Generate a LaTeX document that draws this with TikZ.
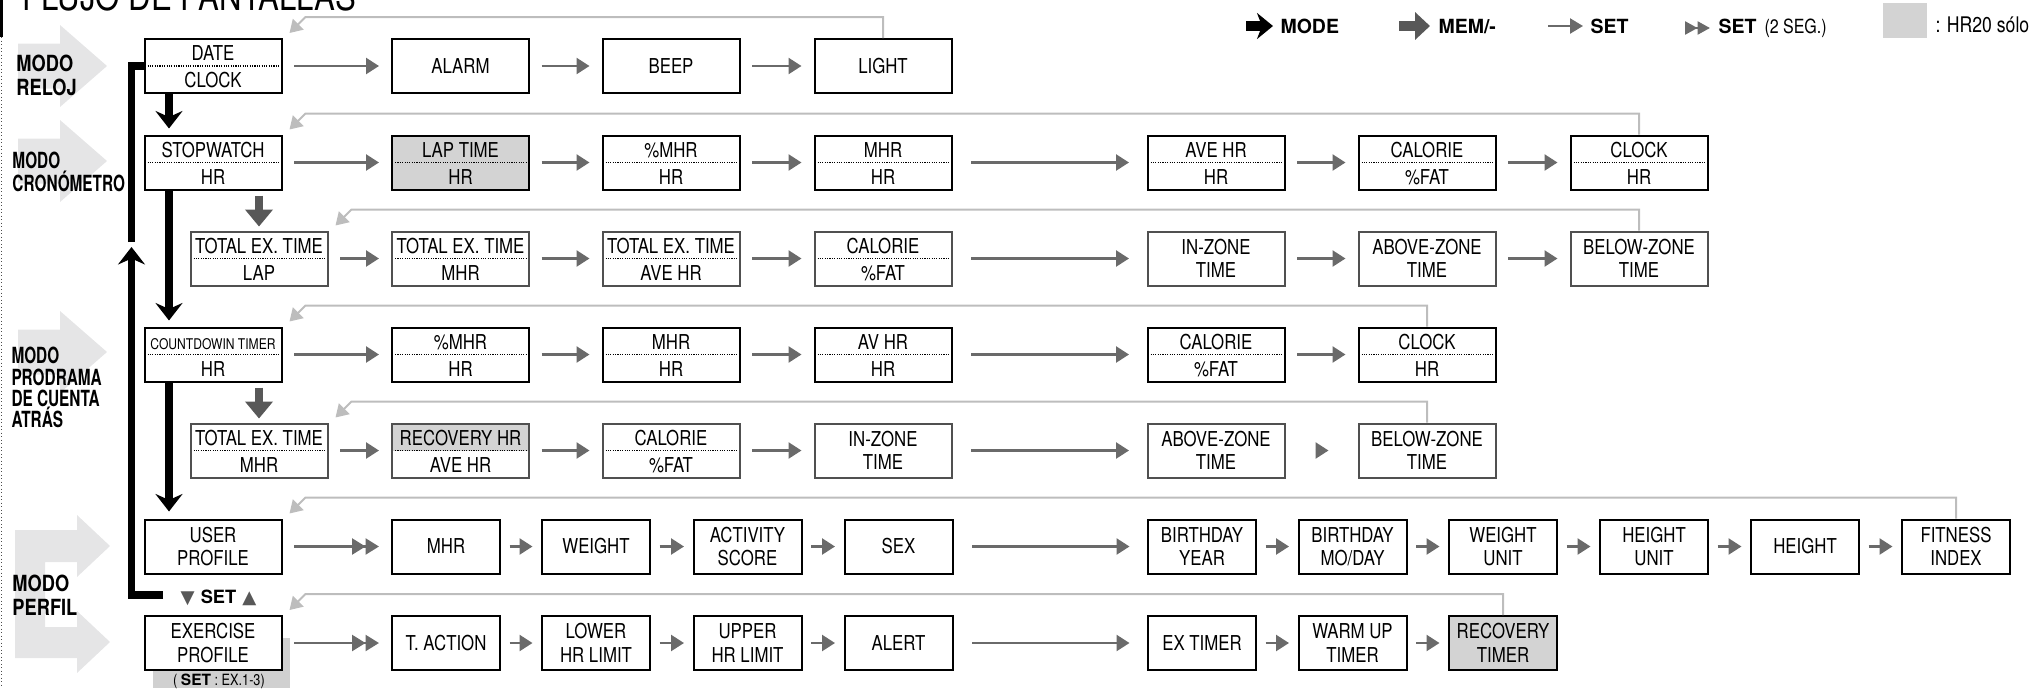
\documentclass[tikz,border=0pt]{standalone}
\usepackage{fontspec}
\setmainfont{TeX Gyre Heros}[FakeStretch=0.82]
\newfontfamily\cnwide{TeX Gyre Heros}[FakeStretch=0.82]
\newfontfamily\cnnarrow{TeX Gyre Heros}[FakeStretch=0.69]
\newfontfamily\plainhv{TeX Gyre Heros}
\newfontfamily\symfont{DejaVu Sans}
\usetikzlibrary{arrows.meta}

\definecolor{modegray}{HTML}{E5E5E6}
\definecolor{fbgray}{HTML}{BDBDBD}
\definecolor{setgray}{HTML}{6A6A6A}
\definecolor{memgray}{HTML}{585858}
\definecolor{hrgray}{HTML}{D3D3D3}
\definecolor{boxgray}{HTML}{505050}
\definecolor{patchgray}{HTML}{D0D0D0}

\newcommand{\boxfont}{\fontsize{8.2}{9.35}\selectfont}

\tikzset{
  box/.style={draw=black, line width=0.8pt, fill=white, minimum width=54.8pt, minimum height=21.6pt, inner sep=0pt, align=center, font=\boxfont},
  nbox/.style={box, minimum width=43.2pt},
  gbox/.style={draw=boxgray},
  hrbox/.style={fill=hrgray},
  tophalf/.style={path picture={\fill[hrgray] (path picture bounding box.north west) rectangle (path picture bounding box.east);}},
  txt/.style={inner sep=0pt, font=\boxfont},
  sepline/.style={line width=0.55pt, dash pattern=on 0.45pt off 0.5pt},
  setarrow/.style={draw=setgray, line width=1pt, -{Triangle[length=5.2pt,width=6.4pt]}, shorten <=4.6pt, shorten >=4.8pt},
  longarrow/.style={setarrow, shorten <=7.4pt, shorten >=7pt},
  shortarrow/.style={setarrow, shorten <=3.4pt, shorten >=3.4pt},
  dblarrow/.style={setarrow, -{Triangle[length=5.4pt,width=6.4pt]Triangle[length=5.4pt,width=6.4pt]}},
  fb/.style={draw=fbgray, line width=0.8pt, -{Triangle[length=5pt,width=6pt]}},
  modearrow/.style={draw=black, line width=3pt, -{Stealth[length=7pt,width=10.8pt,inset=2.4pt]}},
  modeline/.style={draw=black, line width=3pt},
  memarrow/.style={draw=memgray, line width=3.2pt, -{Triangle[length=6.8pt,width=10.8pt]}, shorten <=2pt, shorten >=1.6pt},
  modelabel/.style={anchor=north west, inner sep=0pt, align=left},
  legend/.style={anchor=base west, inner sep=0pt, font=\plainhv\bfseries\fontsize{7.8}{9}\selectfont},
}

\newcommand{\twopart}[5][]{%
  \node[box,#1] (#2) at (#3) {};
  \draw[sepline] ([xshift=1.6pt]#2.west) -- ([xshift=-1.6pt]#2.east);
  \node[txt, anchor=base] (#2t) at ([yshift=2.12pt]#2.center) {#4};
  \node[txt, anchor=base] (#2b) at ([yshift=-8.6pt]#2.center) {#5};
}

\begin{document}
\begin{tikzpicture}[x=0.4pt,y=-0.4pt]
\useasboundingbox (0,0) rectangle (2034,688);

% left border
\draw[line width=0.8pt] (1.5,0) -- (1.5,37);
\draw[line width=0.4pt, dash pattern=on 0.5pt off 0.9pt, draw=black!70] (1.5,37) -- (1.5,688);

% title
\node[anchor=base west, inner sep=0pt, font=\fontsize{15.2}{18}\selectfont] (title) at (22,10.7) {FLUJO DE PANTALLAS};

% legend
\coordinate (lmA) at (1246,26); \coordinate (lmB) at (1273,26);
\draw[draw=black, line width=4pt, -{Stealth[length=6.4pt,width=10.4pt,inset=2pt]}] (lmA) -- (lmB);
\node[legend] (lmode) at (1280,33) {MODE};
\coordinate (leA) at (1399,26); \coordinate (leB) at (1430,26);
\draw[draw=memgray, line width=4pt, -{Triangle[length=6pt,width=10.8pt]}] (leA) -- (leB);
\node[legend] (lmem) at (1438,33) {MEM/-};
\coordinate (lsA) at (1548,26); \coordinate (lsB) at (1583,26);
\draw[draw=setgray, line width=1pt, -{Triangle[length=5.2pt,width=6pt]}] (lsA) -- (lsB);
\node[legend] (lset) at (1590,33) {SET};
\coordinate (ldA) at (1685,28); \coordinate (ldB) at (1710,28);
\draw[draw=setgray, line width=1pt, -{Triangle[length=5pt,width=5.2pt]Triangle[length=5pt,width=5.2pt]}] (ldA) -- (ldB);
\node[legend] (lset2) at (1718,33) {SET};
\node[anchor=base west, inner sep=0pt, font=\fontsize{7.8}{9}\selectfont] (lseg) at (1764,33) {(2 SEG.)};
\node[fill=hrgray, minimum width=17.6pt, minimum height=14pt, inner sep=0pt] (lsq) at (1905,20.5) {};
\node[anchor=base west, inner sep=0pt, font=\fontsize{8.6}{10}\selectfont] (lhr) at (1935,32) {: HR20 sólo};

% big gray mode arrows
\fill[modegray] (18,43.5) -- (60,43.5) -- (60,25) -- (107,66) -- (60,107) -- (60,88.5) -- (18,88.5) -- cycle;
\fill[modegray] (18,138.5) -- (60,138.5) -- (60,120) -- (107,161) -- (60,202) -- (60,183.5) -- (18,183.5) -- cycle;
\fill[modegray] (18,329.5) -- (60,329.5) -- (60,311) -- (107,352) -- (60,393) -- (60,374.5) -- (18,374.5) -- cycle;
\fill[modegray] (15,530) -- (77,530) -- (77,515) -- (110,546) -- (77,577) -- (77,562) -- (45,562) -- (45,627) -- (77,627) -- (77,611) -- (110,642) -- (77,673) -- (77,658) -- (15,658) -- cycle;

% mode labels
\node[modelabel, font=\cnwide\bfseries\fontsize{8.9}{9.3}\selectfont] (lreloj) at (16,55) {MODO\\RELOJ};
\node[modelabel, font=\cnnarrow\bfseries\fontsize{8.9}{9.05}\selectfont] (lcrono) at (12,151.7) {MODO\\CRONÓMETRO};
\node[modelabel, font=\cnnarrow\bfseries\fontsize{8.9}{8.5}\selectfont] (lcuenta) at (11,347) {MODO\\PRODRAMA\\DE CUENTA\\ATRÁS};
\node[modelabel, font=\cnwide\bfseries\fontsize{8.9}{9.2}\selectfont] (lperfil) at (12,575) {MODO\\PERFIL};

% gray patch under exercise profile
\fill[patchgray] (153,638) rectangle (290,688);
\node[anchor=base, inner sep=0pt, font=\fontsize{6.2}{7}\selectfont] (exnote) at (219,685) {( {\plainhv\bfseries SET} : EX.1-3)};

% row 1
\twopart{date}{213,66}{DATE}{CLOCK}
\node[box] (alarm) at (460.5,66) {ALARM};
\node[box] (beep) at (671,66) {BEEP};
\node[box] (light) at (883,66) {LIGHT};

% row 2
\twopart{stop}{213,162.5}{STOPWATCH}{HR}
\twopart[hrbox]{lap}{460.5,162.5}{LAP TIME}{HR}
\twopart{pmhrA}{671,162.5}{\%MHR}{HR}
\twopart{mhrA}{883,162.5}{MHR}{HR}
\twopart{aveA}{1216,162.5}{AVE HR}{HR}
\twopart{calA}{1427,162.5}{CALORIE}{\%FAT}
\twopart{clkA}{1639,162.5}{CLOCK}{HR}

% row 3
\twopart[gbox]{tlB}{259,258.5}{TOTAL EX. TIME}{LAP}
\twopart[gbox]{tmB}{460.5,258.5}{TOTAL EX. TIME}{MHR}
\twopart[gbox]{taB}{671,258.5}{TOTAL EX. TIME}{AVE HR}
\twopart[gbox]{calB}{883,258.5}{CALORIE}{\%FAT}
\node[box,gbox] (inzB) at (1216,258.5) {IN-ZONE\\TIME};
\node[box,gbox] (abvB) at (1427,258.5) {ABOVE-ZONE\\TIME};
\node[box,gbox] (blwB) at (1639,258.5) {BELOW-ZONE\\TIME};

% row 4
\twopart{cd}{213,354.5}{{\fontsize{5.9}{7}\selectfont COUNTDOWIN TIMER}}{HR}
\twopart{pmhrC}{460.5,354.5}{\%MHR}{HR}
\twopart{mhrC}{671,354.5}{MHR}{HR}
\twopart{avC}{883,354.5}{AV HR}{HR}
\twopart{calC}{1216,354.5}{CALORIE}{\%FAT}
\twopart{clkC}{1427,354.5}{CLOCK}{HR}

% row 5
\twopart[gbox]{tmD}{259,450.5}{TOTAL EX. TIME}{MHR}
\twopart[gbox,tophalf]{rhr}{460.5,450.5}{RECOVERY HR}{AVE HR}
\twopart[gbox]{calD}{671,450.5}{CALORIE}{\%FAT}
\node[box,gbox] (inzD) at (883,450.5) {IN-ZONE\\TIME};
\node[box,gbox] (abvD) at (1216,450.5) {ABOVE-ZONE\\TIME};
\node[box,gbox] (blwD) at (1427,450.5) {BELOW-ZONE\\TIME};

% row 6
\node[box] (user) at (213,546.5) {USER\\PROFILE};
\node[nbox] (mhrE) at (446,546.5) {MHR};
\node[nbox] (wgtE) at (596,546.5) {WEIGHT};
\node[nbox] (actE) at (747.5,546.5) {ACTIVITY\\SCORE};
\node[nbox] (sexE) at (898.5,546.5) {SEX};
\node[nbox] (bdyE) at (1202,546.5) {BIRTHDAY\\YEAR};
\node[nbox] (bdmE) at (1352.5,546.5) {BIRTHDAY\\MO/DAY};
\node[nbox] (wuE) at (1503,546.5) {WEIGHT\\UNIT};
\node[nbox] (huE) at (1654,546.5) {HEIGHT\\UNIT};
\node[nbox] (htE) at (1805,546.5) {HEIGHT};
\node[nbox] (fitE) at (1956,546.5) {FITNESS\\INDEX};

% row 7
\node[box] (exer) at (213,643) {EXERCISE\\PROFILE};
\node[nbox] (tact) at (446,643) {T. ACTION};
\node[nbox] (lowF) at (596,643) {LOWER\\HR LIMIT};
\node[nbox] (upF) at (747.5,643) {UPPER\\HR LIMIT};
\node[nbox] (alertF) at (898.5,643) {ALERT};
\node[nbox] (extF) at (1202,643) {EX TIMER};
\node[nbox] (wupF) at (1352.5,643) {WARM UP\\TIMER};
\node[nbox,hrbox] (recF) at (1503,643) {RECOVERY\\TIMER};

% SET label
\node[anchor=base, inner sep=0pt, font=\plainhv\bfseries\fontsize{7.3}{8}\selectfont] (setlbl) at (218.5,603) {{\symfont\color{memgray}▼}\hspace{2.4pt}SET\hspace{2.4pt}{\symfont\color{memgray}▲}};

% SET arrows
\draw[setarrow] (date) -- (alarm);
\draw[setarrow] (alarm) -- (beep);
\draw[setarrow] (beep) -- (light);

\draw[setarrow] (stop) -- (lap);
\draw[setarrow] (lap) -- (pmhrA);
\draw[setarrow] (pmhrA) -- (mhrA);
\draw[longarrow] (mhrA) -- (aveA);
\draw[setarrow] (aveA) -- (calA);
\draw[setarrow] (calA) -- (clkA);

\draw[setarrow] (tlB) -- (tmB);
\draw[setarrow] (tmB) -- (taB);
\draw[setarrow] (taB) -- (calB);
\draw[longarrow] (calB) -- (inzB);
\draw[setarrow] (inzB) -- (abvB);
\draw[setarrow] (abvB) -- (blwB);

\draw[setarrow] (cd) -- (pmhrC);
\draw[setarrow] (pmhrC) -- (mhrC);
\draw[setarrow] (mhrC) -- (avC);
\draw[longarrow] (avC) -- (calC);
\draw[setarrow] (calC) -- (clkC);

\draw[setarrow] (tmD) -- (rhr);
\draw[setarrow] (rhr) -- (calD);
\draw[setarrow] (calD) -- (inzD);
\draw[longarrow] (inzD) -- (abvD);
\draw[setarrow, shorten <=12pt, shorten >=11.6pt] (abvD) -- (blwD);

\draw[dblarrow] (user) -- (mhrE);
\draw[shortarrow] (mhrE) -- (wgtE);
\draw[shortarrow] (wgtE) -- (actE);
\draw[shortarrow] (actE) -- (sexE);
\draw[longarrow] (sexE) -- (bdyE);
\draw[shortarrow] (bdyE) -- (bdmE);
\draw[shortarrow] (bdmE) -- (wuE);
\draw[shortarrow] (wuE) -- (huE);
\draw[shortarrow] (huE) -- (htE);
\draw[shortarrow] (htE) -- (fitE);

\draw[dblarrow] (exer) -- (tact);
\draw[shortarrow] (tact) -- (lowF);
\draw[shortarrow] (lowF) -- (upF);
\draw[shortarrow] (upF) -- (alertF);
\draw[longarrow] (alertF) -- (extF);
\draw[shortarrow] (extF) -- (wupF);
\draw[shortarrow] (wupF) -- (recF);

% feedback lines
\draw[fb] (light.north) |- ([shift={(23,-21)}]date.north east) -- ([shift={(7,-5)}]date.north east);
\draw[fb] (clkA.north) |- ([shift={(23,-21)}]stop.north east) -- ([shift={(7,-5)}]stop.north east);
\draw[fb] (blwB.north) |- ([shift={(23,-21)}]tlB.north east) -- ([shift={(7,-5)}]tlB.north east);
\draw[fb] (clkC.north) |- ([shift={(23,-21)}]cd.north east) -- ([shift={(7,-5)}]cd.north east);
\draw[fb] (blwD.north) |- ([shift={(23,-21)}]tmD.north east) -- ([shift={(7,-5)}]tmD.north east);
\draw[fb] (fitE.north) |- ([shift={(23,-21)}]user.north east) -- ([shift={(7,-5)}]user.north east);
\draw[fb] (recF.north) |- ([shift={(23,-21)}]exer.north east) -- ([shift={(7,-5)}]exer.north east);

% MODE arrows
\draw[modearrow, shorten >=2.4pt] ([xshift=-17.6pt]date.south) -- ([xshift=-17.6pt]stop.north);
\draw[modearrow, shorten >=2.4pt] ([xshift=-17.6pt]stop.south) -- ([xshift=-17.6pt]cd.north);
\draw[modearrow, shorten >=2.8pt] ([xshift=-17.6pt]cd.south) -- ([xshift=-17.6pt]user.north);
\coordinate (mret) at (163,595);
\coordinate (mup) at (131.5,247);
\coordinate (mtop) at (131.5,242);
\draw[modearrow] (mret) -| (mup);
\draw[modeline] (mtop) |- (date.west);

% MEM arrows
\draw[memarrow] (tlB.north |- stop.south) -- (tlB.north);
\draw[memarrow] (tmD.north |- cd.south) -- (tmD.north);

\end{tikzpicture}
\end{document}
